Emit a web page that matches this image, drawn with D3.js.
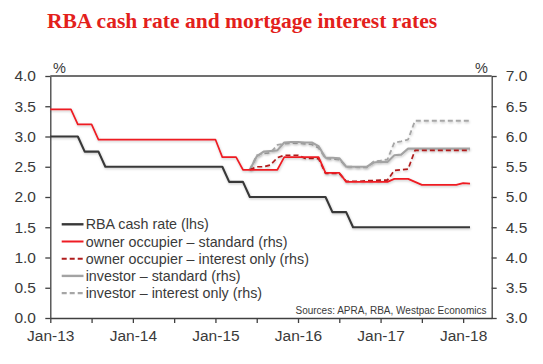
<!DOCTYPE html>
<html><head><meta charset="utf-8">
<script src="https://cdn.jsdelivr.net/npm/d3@7"></script>
<style>html,body{margin:0;padding:0;background:#fff;}svg{display:block;}</style>
</head><body>
<svg id="c" width="543" height="364"></svg>
<script>
// ---- data (monthly, index 0 = Jan-13) ----
const months = d3.range(0, 62); // Jan-13 .. Feb-18
const cashRate = [3.0,3.0,3.0,3.0,3.0, 2.75,2.75,2.75,
  2.5,2.5,2.5,2.5,2.5,2.5,2.5,2.5,2.5,2.5,2.5,2.5,2.5,2.5,2.5,2.5,2.5,2.5,
  2.25,2.25,2.25,
  2.0,2.0,2.0,2.0,2.0,2.0,2.0,2.0,2.0,2.0,2.0,2.0,
  1.75,1.75,1.75,
  1.5,1.5,1.5,1.5,1.5,1.5,1.5,1.5,1.5,1.5,1.5,1.5,1.5,1.5,1.5,1.5,1.5,1.5];
const ownerStandard = [6.45,6.45,6.45,6.45, 6.20,6.20,6.20,
  5.95,5.95,5.95,5.95,5.95,5.95,5.95,5.95,5.95,5.95,5.95,5.95,5.95,5.95,5.95,5.95,5.95,5.95,
  5.66,5.66,5.66,
  5.45,5.45,5.45,5.45,5.45,5.45,
  5.66,5.66,5.66,5.66,5.66,5.66,
  5.40,5.40,5.40,
  5.25,5.25,5.25,5.25,5.25,5.25,5.25,
  5.30,5.30,5.30, 5.25,
  5.20,5.20,5.20,5.20,5.20,5.20, 5.23,5.22];
const N = null;
const pre = Array(29).fill(N);
const ownerIO = pre.concat([5.45,5.50,5.50,5.53,5.65,5.69,5.69,5.69,5.64,5.64,5.63,
  5.39,5.39,5.39,5.26,5.26,5.26,5.27,5.27,5.28,5.28,5.44,5.45,5.46,
  5.77,5.77,5.77,5.77,5.77,5.77,5.77,5.77,5.77]);
const investorStandard = pre.concat([5.45,5.67,5.75,5.76,5.77,5.90,5.91,5.91,5.90,5.90,5.84,
  5.65,5.65,5.64,5.50,5.50,5.50,5.50,5.57,5.58,5.58,5.69,5.70,
  5.80,5.80,5.80,5.80,5.80,5.80,5.80,5.80,5.80,5.80]);
const investorIO = pre.concat([5.45,5.69,5.72,5.73,5.86,5.88,5.89,5.89,5.88,5.87,5.81,
  5.64,5.63,5.62,5.50,5.50,5.49,5.49,5.59,5.60,5.62,5.90,5.92,5.95,
  6.26,6.26,6.26,6.26,6.26,6.26,6.26,6.26,6.26]);
const leftTicks = [0,0.5,1,1.5,2,2.5,3,3.5,4];
const rightTicks = [3,3.5,4,4.5,5,5.5,6,6.5,7];
const xTickMonths = [0,6,12,18,24,30,36,42,48,54,60];
const xTickLabels = ["Jan-13","","Jan-14","","Jan-15","","Jan-16","","Jan-17","","Jan-18"];
const seriesNames = ["RBA cash rate (lhs)","owner occupier \u2013 standard (rhs)","owner occupier \u2013 interest only (rhs)","investor \u2013 standard (rhs)","investor \u2013 interest only (rhs)"];

// ---- layout ----
const L = 50.3, R = 491.7, T = 76, B = 318;
const axisCol = "#404040", textCol = "#3a3a3a";
const svg = d3.select("#c");
const x = d3.scaleLinear().domain([0, 64.15]).range([L, R]);
const yL = d3.scaleLinear().domain([0, 4]).range([B, T]);
const yR = d3.scaleLinear().domain([3, 7]).range([B, T]);

const defs = svg.append("defs");
const f = defs.append("filter").attr("id","sh").attr("x","-5%").attr("y","-20%").attr("width","110%").attr("height","140%");
f.append("feDropShadow").attr("dx",0.6).attr("dy",1.2).attr("stdDeviation",0.8).attr("flood-color","#000").attr("flood-opacity",0.22);

svg.append("text").attr("x", 47).attr("y", 28.3)
  .attr("font-family","'Liberation Serif','Times New Roman',serif").attr("font-weight","bold")
  .attr("font-size", 21.5).attr("fill","#e3201b").text("RBA cash rate and mortgage interest rates");

// top border
svg.append("line").attr("x1",L).attr("x2",R).attr("y1",T).attr("y2",T).attr("stroke",axisCol).attr("stroke-width",1.3);

const fontF = "'Liberation Sans',Arial,sans-serif";
function styleAxis(g){
  g.select(".domain").attr("stroke",axisCol).attr("stroke-width",1.3);
  g.selectAll(".tick line").attr("stroke",axisCol).attr("stroke-width",1.3);
  g.selectAll("text").attr("font-family",fontF).attr("font-size",15.5).attr("fill",textCol);
}
svg.append("g").attr("transform",`translate(${L},0)`)
  .call(d3.axisLeft(yL).tickValues(leftTicks).tickFormat(d3.format(".1f")).tickSizeInner(5).tickSizeOuter(0).tickPadding(9.3))
  .call(styleAxis);
svg.append("g").attr("transform",`translate(${R},0)`)
  .call(d3.axisRight(yR).tickValues(rightTicks).tickFormat(d3.format(".1f")).tickSizeInner(5).tickSizeOuter(0).tickPadding(9))
  .call(styleAxis);
svg.append("g").attr("transform",`translate(0,${B})`)
  .call(d3.axisBottom(x).tickValues(xTickMonths).tickFormat((d,i)=>xTickLabels[i]).tickSizeInner(5).tickSizeOuter(0).tickPadding(7))
  .call(styleAxis);

svg.append("text").attr("x",53).attr("y",72.8).attr("font-family",fontF).attr("font-size",14.5).attr("fill",textCol).text("%");
svg.append("text").attr("x",475).attr("y",72.8).attr("font-family",fontF).attr("font-size",14.5).attr("fill",textCol).text("%");

// ---- lines ----
const styles = [
  {data: cashRate, y: yL, color:"#383838", w:2.1, dash:null},
  {data: ownerStandard, y: yR, color:"#ee1c24", w:1.7, dash:null},
  {data: ownerIO, y: yR, color:"#b01c1c", w:1.7, dash:"5,3"},
  {data: investorStandard, y: yR, color:"#a3a3a3", w:2.1, dash:null},
  {data: investorIO, y: yR, color:"#a6a6a6", w:1.8, dash:"5,3"}
];
const drawOrder = [0,4,3,2,1];
drawOrder.forEach(i=>{
  const s = styles[i];
  const line = d3.line().defined(d=>d!=null).x((d,j)=>x(months[j])).y(d=>s.y(d));
  svg.append("path").datum(s.data).attr("d", line).attr("fill","none")
    .attr("stroke", s.color).attr("stroke-width", s.w).attr("stroke-dasharray", s.dash)
    .attr("stroke-linejoin","round").attr("filter","url(#sh)");
});

// ---- legend ----
const legY = [224.3, 241.5, 258.7, 275.9, 293.1];
seriesNames.forEach((name,i)=>{
  const s = styles[i];
  svg.append("line").attr("x1",61.7).attr("x2",83.5).attr("y1",legY[i]).attr("y2",legY[i])
    .attr("stroke",s.color).attr("stroke-width",s.w+0.3).attr("stroke-dasharray",s.dash);
  svg.append("text").attr("x",85.7).attr("y",legY[i]).attr("dy","0.36em")
    .attr("font-family",fontF).attr("font-size",14.3).attr("fill",textCol).text(name);
});

svg.append("text").attr("x",486.5).attr("y",314).attr("text-anchor","end")
  .attr("font-family",fontF).attr("font-size",10).attr("fill",textCol).text("Sources: APRA, RBA, Westpac Economics");
</script>
</body></html>
